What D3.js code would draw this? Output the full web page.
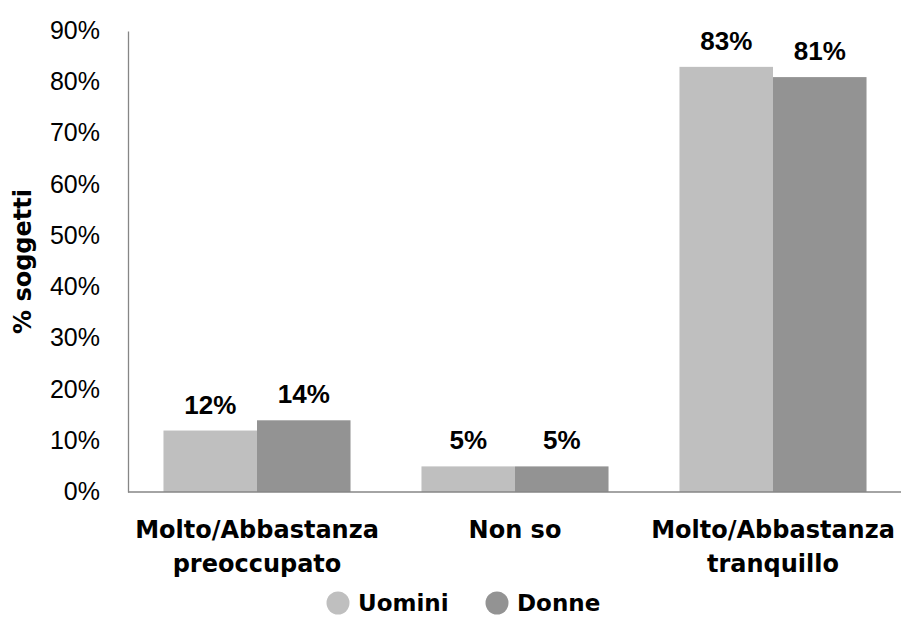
<!DOCTYPE html>
<html>
<head>
<meta charset="utf-8">
<script src="https://cdn.jsdelivr.net/npm/d3@7"></script>
<style>
  body { margin: 0; background: #fff; }
</style>
</head>
<body>
<script>
const categories = [["Molto/Abbastanza", "preoccupato"], ["Non so"], ["Molto/Abbastanza", "tranquillo"]];
const seriesNames = ["Uomini", "Donne"];
const uomini = [0.12, 0.05, 0.83];
const donne = [0.14, 0.05, 0.81];
const yTicks = [0, 0.1, 0.2, 0.3, 0.4, 0.5, 0.6, 0.7, 0.8, 0.9];

const colors = ["#bfbfbf", "#939393"];
const numFont = "'Liberation Sans', Arial, sans-serif";
const labelFont = "'DejaVu Sans', sans-serif";

const W = 901, H = 619;
const margin = { left: 128, right: -1, top: 31, bottom: 127 };

const svg = d3.select("body").append("svg")
  .attr("width", W)
  .attr("height", H);

const x0 = d3.scaleBand()
  .domain(d3.range(categories.length))
  .range([margin.left, W - margin.right])
  .paddingInner(0.275)
  .paddingOuter(0.1375);

const x1 = d3.scaleBand()
  .domain(seriesNames)
  .range([0, x0.bandwidth()]);

const y = d3.scaleLinear()
  .domain([0, 0.9])
  .range([H - margin.bottom, margin.top]);

// y axis
const yAxis = svg.append("g")
  .attr("transform", `translate(${margin.left},0)`)
  .call(d3.axisLeft(y).tickValues(yTicks).tickFormat(d3.format(".0%")).tickSize(0).tickPadding(28));
yAxis.select(".domain").attr("stroke", "#868686").attr("stroke-width", 1.3);
yAxis.selectAll("text")
  .attr("font-family", numFont)
  .attr("font-size", 25)
  .attr("dy", "0.3em")
  .attr("fill", "#000");

const data = [uomini, donne];

const groups = svg.append("g").selectAll("g")
  .data(d3.range(categories.length))
  .join("g")
  .attr("transform", i => `translate(${x0(i)},0)`);

groups.selectAll("rect")
  .data(i => seriesNames.map((s, k) => ({ s, k, v: data[k][i] })))
  .join("rect")
  .attr("x", d => x1(d.s))
  .attr("y", d => y(d.v))
  .attr("width", x1.bandwidth())
  .attr("height", d => y(0) - y(d.v))
  .attr("fill", d => colors[d.k]);

groups.selectAll("text.val")
  .data(i => seriesNames.map((s, k) => ({ s, k, v: data[k][i] })))
  .join("text")
  .attr("class", "val")
  .attr("x", d => x1(d.s) + x1.bandwidth() / 2)
  .attr("y", d => y(d.v) - 17)
  .attr("text-anchor", "middle")
  .attr("font-family", numFont)
  .attr("font-weight", "bold")
  .attr("font-size", 26)
  .text(d => d3.format(".0%")(d.v));

// x axis
svg.append("line")
  .attr("x1", margin.left)
  .attr("x2", W)
  .attr("y1", y(0))
  .attr("y2", y(0))
  .attr("stroke", "#868686")
  .attr("stroke-width", 1.3);

const catLabels = svg.append("g").selectAll("text")
  .data(categories)
  .join("text")
  .attr("x", (d, i) => x0(i) + x0.bandwidth() / 2)
  .attr("y", y(0) + 46)
  .attr("text-anchor", "middle")
  .attr("font-family", labelFont)
  .attr("font-weight", "bold")
  .attr("font-size", 24);
catLabels.selectAll("tspan")
  .data(d => d)
  .join("tspan")
  .attr("x", function () { return this.parentNode.getAttribute("x"); })
  .attr("dy", (d, j) => j === 0 ? 0 : 34)
  .text(d => d);

// y title
svg.append("text")
  .attr("transform", `translate(31,${(y(0) + y(0.9)) / 2}) rotate(-90)`)
  .attr("text-anchor", "middle")
  .attr("font-family", labelFont)
  .attr("font-weight", "bold")
  .attr("font-size", 24)
  .text("% soggetti");

// legend
const legendX = [338, 497];
const legend = svg.append("g").selectAll("g")
  .data(seriesNames)
  .join("g")
  .attr("transform", (d, i) => `translate(${legendX[i]},603)`);
legend.append("circle")
  .attr("r", 11.5)
  .attr("fill", (d, i) => colors[i]);
legend.append("text")
  .attr("x", 20)
  .attr("y", 8)
  .attr("font-family", labelFont)
  .attr("font-weight", "bold")
  .attr("font-size", 23)
  .text(d => d);
</script>
</body>
</html>
